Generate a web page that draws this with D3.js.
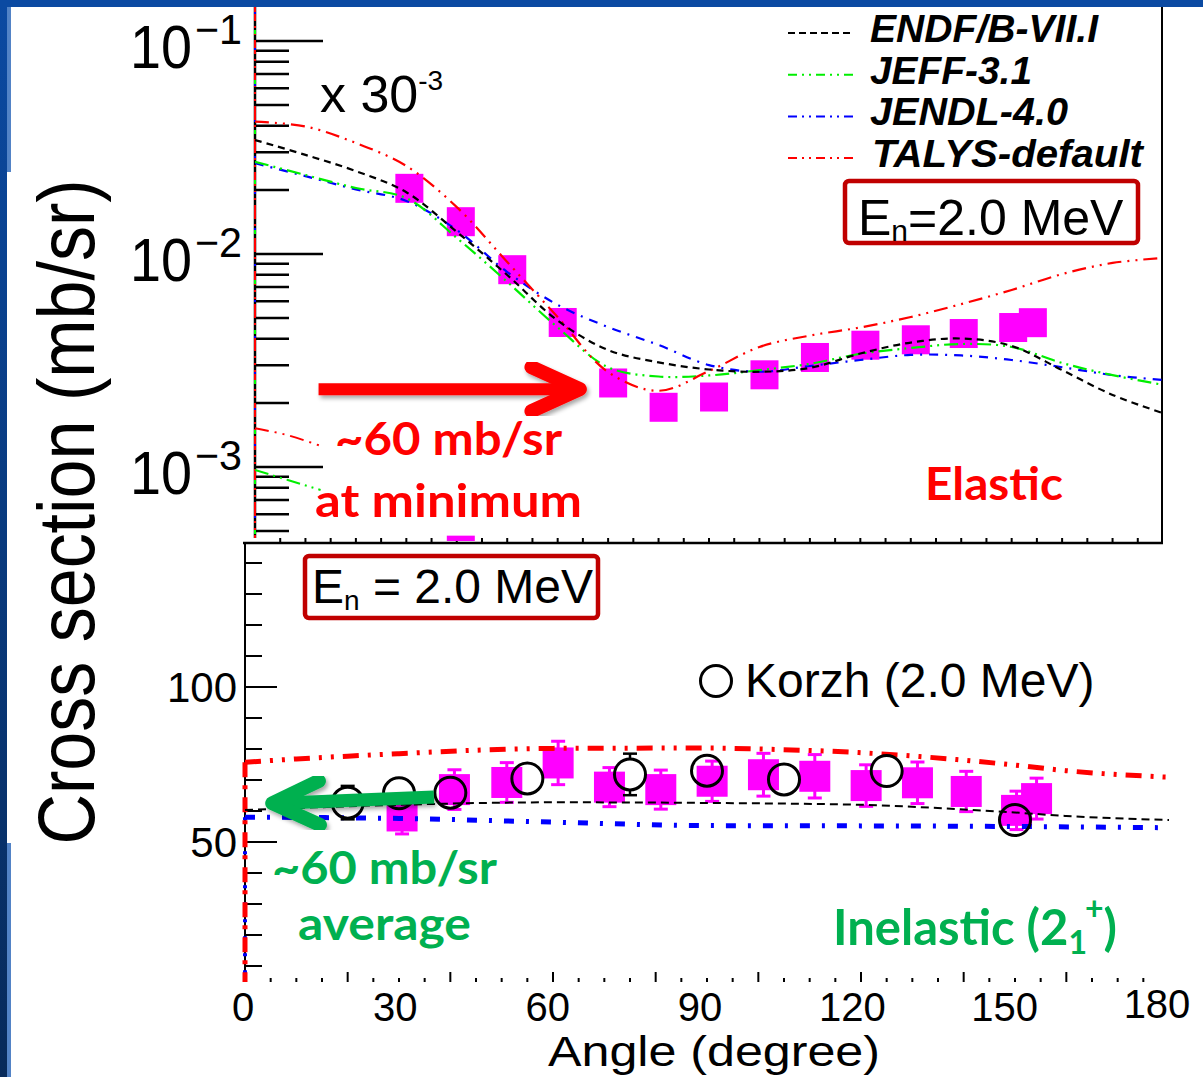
<!DOCTYPE html>
<html>
<head>
<meta charset="utf-8">
<script src="https://cdn.jsdelivr.net/npm/d3@7"></script>
<style>
  body { margin: 0; background: #fff; }
  svg { display: block; }
  .helv { font-family: "Liberation Sans", Arial, sans-serif; }
  .cal { font-family: Lato, "Open Sans", sans-serif; font-weight: 700; }
</style>
</head>
<body>
<div id="chart"></div>
<script>
///////////////////////////////////////////////////////////////////////////
//////////////////////////////// Data ////////////////////////////////////
///////////////////////////////////////////////////////////////////////////

// measured angles (deg), same for elastic and inelastic sets
var measAngles = [30.6, 40.8, 51, 61, 71, 81, 91, 101, 111, 121, 131, 140.5, 150.3, 154.2];
// elastic, mb/sr scaled x 30^-3
var elasticVals = [0.02034, 0.01418, 0.00844, 0.00477, 0.00248, 0.001907, 0.002131,
                   0.002709, 0.003267, 0.003731, 0.003956, 0.004233, 0.004517, 0.004759];
// inelastic (2_1+), mb/sr
var inelVals = [58.4, 66.9, 69.2, 75.5, 67.7, 66.9, 69.6, 71.7, 71.2, 68.2, 69.1, 66.3, 60.2, 64];
var inelErr  = [5.8, 6.4, 6.4, 7, 6.3, 6.3, 6.5, 6.9, 7, 6.7, 6.7, 6.5, 6.2, 6.6];

// Korzh (2.0 MeV)
var korzhAngles = [20, 30, 40, 55, 75, 90, 105, 125, 150];
var korzhVals   = [62.7, 65.7, 65.9, 70.5, 71.8, 73, 70.2, 72.9, 57.1];
var korzhErr    = [5.4, 4.9, 4, 3, 6.7, 3, 3, 3, 3];

// evaluations, elastic panel (log)
var gridAngles = [0, 10, 20, 30, 40, 50, 60, 70, 80, 90, 100, 110, 120, 130, 140, 150, 160, 170, 180];
var endfEl  = [0.0343, 0.0292, 0.0245, 0.0195, 0.0127, 0.00797, 0.00487, 0.00354, 0.0031, 0.00287,
               0.0028, 0.00292, 0.00341, 0.00384, 0.00401, 0.0037, 0.00285, 0.00218, 0.00179];
var jeffEl  = [0.0271, 0.0235, 0.0204, 0.0183, 0.0119, 0.0074, 0.00452, 0.00294, 0.00266, 0.00269,
               0.00285, 0.00305, 0.0034, 0.00362, 0.00378, 0.00366, 0.00308, 0.0027, 0.00243];
var jendlEl = [0.0267, 0.0232, 0.0201, 0.01775, 0.01297, 0.00823, 0.00577, 0.00454, 0.00374, 0.00301,
               0.0028, 0.00298, 0.00318, 0.00336, 0.00334, 0.00318, 0.00294, 0.0027, 0.00256];
var talysEl = [0.0418, 0.0397, 0.0332, 0.0259, 0.0166, 0.00917, 0.00506, 0.00279, 0.00228, 0.00282,
               0.00366, 0.00414, 0.00452, 0.00506, 0.00582, 0.00678, 0.00805, 0.00908, 0.00958];

// pieces of the next (hidden) energy set, left edge
var lowAngles = [0, 6.5, 13];
var lowTalys  = [0.00152, 0.00141, 0.001256];
var lowJeff   = [0.000968, 0.000869, 0.00078];
var lowPointAngle = [40.8];
var lowPointVal   = [0.000407];

// evaluations, inelastic panel (linear)
var talysInAng = [0, 10, 20, 30, 45, 60, 90, 100, 120, 140, 150, 160, 180];
var talysIn    = [75.7, 76.8, 77.7, 78.5, 79.6, 80.2, 80.3, 80, 78.8, 76.4, 74.8, 73, 70.9];
var endfInAng  = [0, 30, 60, 90, 120, 140, 150, 160, 180];
var endfIn     = [60.3, 62, 62.8, 62.6, 62, 60.5, 59.5, 58.4, 57.1];
var jendlInAng = [0, 30, 60, 90, 120, 150, 180];
var jendlIn    = [58, 57.6, 56.4, 55.3, 55.2, 55, 54.6];

// axes
var xLabels = [0, 30, 60, 90, 120, 150, 180];
var yInLabels = [50, 100];
var yElLabels = [1e-1, 1e-2, 1e-3];
var legendNames = ["ENDF/B-VII.I", "JEFF-3.1", "JENDL-4.0", "TALYS-default"];
var legendWidths = [228, 162, 198, 271];

///////////////////////////////////////////////////////////////////////////
////////////////////////////// Set up svg ////////////////////////////////
///////////////////////////////////////////////////////////////////////////

var W = 1203, H = 1077;
var svg = d3.select("#chart").append("svg")
	.attr("width", W).attr("height", H);

// slide frame
var defs = svg.append("defs");
var grad = defs.append("linearGradient").attr("id", "frameGrad")
	.attr("x1", 0).attr("y1", 0).attr("x2", 0).attr("y2", 1);
grad.append("stop").attr("offset", "0%").attr("stop-color", "#0b4aa2");
grad.append("stop").attr("offset", "100%").attr("stop-color", "#072a5a");
svg.append("rect").attr("x", 0).attr("y", 0).attr("width", 7).attr("height", H).attr("fill", "url(#frameGrad)");
svg.append("rect").attr("x", 0).attr("y", 0).attr("width", W).attr("height", 7).attr("fill", "#0b4aa2");
svg.append("rect").attr("x", 7).attr("y", 7).attr("width", 4).attr("height", 165).attr("fill", "#5283c6");
svg.append("rect").attr("x", 7).attr("y", 7).attr("width", 122).attr("height", 3).attr("fill", "#5283c6");
svg.append("rect").attr("x", 7).attr("y", 843).attr("width", 4).attr("height", H - 843).attr("fill", "#5283c6");

defs.append("clipPath").attr("id", "clipTop").append("rect")
	.attr("x", 255).attr("y", 7).attr("width", 908).attr("height", 534);
defs.append("filter").attr("id", "shadow")
	.append("feDropShadow").attr("dx", 2).attr("dy", 3).attr("stdDeviation", 2)
	.attr("flood-color", "#000").attr("flood-opacity", 0.35);

///////////////////////////////////////////////////////////////////////////
//////////////////////////// Scales //////////////////////////////////////
///////////////////////////////////////////////////////////////////////////

var xTop = d3.scaleLinear().domain([0, 180]).range([255, 1163]);
var yTop = d3.scaleLog().domain([1e-3, 1e-1]).range([467, 41]);
var xBot = d3.scaleLinear().domain([0, 180]).range([245, 1169]);
var xBotLab = d3.scaleLinear().domain([0, 180]).range([243, 1157]);
var yBot = d3.scaleLinear().domain([50, 100]).range([842, 687]);

///////////////////////////////////////////////////////////////////////////
///////////////////////// Bottom panel: inelastic ////////////////////////
///////////////////////////////////////////////////////////////////////////

var bot = svg.append("g");

// y axis
bot.append("line").attr("x1", 245).attr("x2", 245).attr("y1", 543).attr("y2", 982)
	.attr("stroke", "#000").attr("stroke-width", 2);
var yBotTicks = d3.range(10, 141, 10);
bot.selectAll(".ybt").data(yBotTicks).enter().append("line")
	.attr("x1", 245).attr("x2", function(d) { return d % 50 === 0 ? 277 : 262; })
	.attr("y1", function(d) { return yBot(d); }).attr("y2", function(d) { return yBot(d); })
	.attr("stroke", "#000").attr("stroke-width", 2);
bot.selectAll(".ybl").data(yInLabels).enter().append("text")
	.attr("class", "helv").attr("x", 237).attr("y", function(d) { return yBot(d) + 15; })
	.attr("text-anchor", "end").attr("font-size", 42).text(function(d) { return d; });

// x axis ticks
var xBotTicks = d3.range(5, 180, 5);
bot.selectAll(".xbt").data(xBotTicks).enter().append("line")
	.attr("x1", function(d) { return xBot(d); }).attr("x2", function(d) { return xBot(d); })
	.attr("y1", 982).attr("y2", function(d) { return d % 20 === 0 ? 972 : 978; })
	.attr("stroke", "#000").attr("stroke-width", 2);
bot.selectAll(".xbl").data(xLabels).enter().append("text")
	.attr("class", "helv").attr("x", function(d) { return xBotLab(d); })
	.attr("y", function(d) { return d === 180 ? 1018 : 1021; })
	.attr("text-anchor", "middle").attr("font-size", 40).text(function(d) { return d; });

// curves along left axis
bot.append("line").attr("x1", 245).attr("x2", 245).attr("y1", yBot(58)).attr("y2", 982)
	.attr("stroke", "#0000ff").attr("stroke-width", 4).attr("stroke-dasharray", "3,14");
bot.append("line").attr("x1", 245).attr("x2", 245).attr("y1", yBot(75.7)).attr("y2", 982)
	.attr("stroke", "#ff0000").attr("stroke-width", 5).attr("stroke-dasharray", "15,8,4,8");

// error bar drawn only outside the marker
var R_CIRC = 15.5, HALF_SQ = 15.5;
function errBars(sel, xs, ys, half, color, w) {
	sel.each(function(d) {
		var g = d3.select(this), x = xs(d.a), yc = ys(d.v);
		var yHi = ys(d.v + d.e), yLo = ys(d.v - d.e);
		[[yHi, yc - half], [yLo, yc + half]].forEach(function(p) {
			if (Math.abs(p[0] - yc) <= half) return;
			g.append("line").attr("x1", x).attr("x2", x).attr("y1", p[0]).attr("y2", p[1])
				.attr("stroke", color).attr("stroke-width", w);
			g.append("line").attr("x1", x - 7).attr("x2", x + 7).attr("y1", p[0]).attr("y2", p[0])
				.attr("stroke", color).attr("stroke-width", w);
		});
	});
}

// data squares + error bars
var inel = measAngles.map(function(a, i) { return {a: a, v: inelVals[i], e: inelErr[i]}; });
var sq = bot.selectAll(".isq").data(inel).enter().append("g");
errBars(sq, xBot, yBot, HALF_SQ - 1, "#ff00ff", 3);
sq.append("rect")
	.attr("x", function(d) { return xBot(d.a) - HALF_SQ; }).attr("y", function(d) { return yBot(d.v) - HALF_SQ; })
	.attr("width", 2 * HALF_SQ).attr("height", 2 * HALF_SQ).attr("fill", "#ff00ff");

// evaluation curves
var lineBot = d3.line().curve(d3.curveMonotoneX)
	.x(function(d) { return xBot(d[0]); }).y(function(d) { return yBot(d[1]); });
bot.append("path").datum(d3.zip(jendlInAng, jendlIn)).attr("d", lineBot)
	.attr("fill", "none").attr("stroke", "#0000ff").attr("stroke-width", 5).attr("stroke-dasharray", "10,12,3,12");
bot.append("path").datum(d3.zip(talysInAng, talysIn)).attr("d", lineBot)
	.attr("fill", "none").attr("stroke", "#ff0000").attr("stroke-width", 5).attr("stroke-dasharray", "16,9,3,9,3,9");
bot.append("path").datum(d3.zip(endfInAng, endfIn)).attr("d", lineBot)
	.attr("fill", "none").attr("stroke", "#000").attr("stroke-width", 2).attr("stroke-dasharray", "8,5");

// Korzh open circles
var korzh = korzhAngles.map(function(a, i) { return {a: a, v: korzhVals[i], e: korzhErr[i]}; });
var kz = bot.selectAll(".kz").data(korzh).enter().append("g");
errBars(kz, xBot, yBot, R_CIRC, "#000", 2.5);
kz.append("circle")
	.attr("cx", function(d) { return xBot(d.a); }).attr("cy", function(d) { return yBot(d.v); })
	.attr("r", R_CIRC).attr("fill", "none").attr("stroke", "#000").attr("stroke-width", 3);

// legend + energy box
bot.append("circle").attr("cx", 716).attr("cy", 681).attr("r", R_CIRC)
	.attr("fill", "none").attr("stroke", "#000").attr("stroke-width", 3);
bot.append("text").attr("class", "helv").attr("x", 745).attr("y", 697).attr("font-size", 48)
	.text("Korzh (2.0 MeV)");
bot.append("rect").attr("x", 305).attr("y", 556).attr("width", 293).attr("height", 62).attr("rx", 4)
	.attr("fill", "none").attr("stroke", "#c00000").attr("stroke-width", 4.5);
var eb = bot.append("text").attr("class", "helv").attr("x", 312).attr("y", 603).attr("font-size", 48);
eb.append("tspan").text("E");
eb.append("tspan").attr("font-size", 28).attr("dy", 7).text("n");
eb.append("tspan").attr("dy", -7).text(" = 2.0 MeV");

///////////////////////////////////////////////////////////////////////////
////////////////////////// Top panel: elastic ////////////////////////////
///////////////////////////////////////////////////////////////////////////

var topG = svg.append("g");
topG.append("rect").attr("x", 11).attr("y", 7).attr("width", 1152).attr("height", 534).attr("fill", "#fff");

// frame: bottom axis line, right border
topG.append("line").attr("x1", 243).attr("x2", 1163).attr("y1", 543).attr("y2", 543)
	.attr("stroke", "#000").attr("stroke-width", 2.5);
topG.append("line").attr("x1", 1162).attr("x2", 1162).attr("y1", 7).attr("y2", 543)
	.attr("stroke", "#000").attr("stroke-width", 2);
topG.selectAll(".xtt").data(d3.range(5, 180, 5)).enter().append("line")
	.attr("x1", function(d) { return xTop(d); }).attr("x2", function(d) { return xTop(d); })
	.attr("y1", 542).attr("y2", 538).attr("stroke", "#000").attr("stroke-width", 2);

// y axis with log ticks
topG.append("line").attr("x1", 255).attr("x2", 255).attr("y1", 7).attr("y2", 538)
	.attr("stroke", "#000").attr("stroke-width", 2.5);
var logTicks = d3.scaleLog().domain([5e-4, 0.1]).ticks();
topG.selectAll(".ytt").data(logTicks).enter().append("line")
	.attr("x1", 255)
	.attr("x2", function(d) { return Math.abs(Math.log10(d) - Math.round(Math.log10(d))) < 1e-9 ? 323 : 289; })
	.attr("y1", function(d) { return yTop(d); }).attr("y2", function(d) { return yTop(d); })
	.attr("stroke", "#000").attr("stroke-width", 2.5);
topG.append("line").attr("x1", 255).attr("x2", 255).attr("y1", 7).attr("y2", 538)
	.attr("stroke", "#ff0000").attr("stroke-width", 2).attr("stroke-dasharray", "14,5,2,5,2,5");
topG.append("line").attr("x1", 255).attr("x2", 255).attr("y1", 12).attr("y2", 538)
	.attr("stroke", "#0000ff").attr("stroke-width", 2).attr("stroke-dasharray", "2,34");
topG.append("line").attr("x1", 255).attr("x2", 255).attr("y1", 30).attr("y2", 538)
	.attr("stroke", "#00ff00").attr("stroke-width", 2).attr("stroke-dasharray", "4,46");

var yl = topG.selectAll(".ytl").data(yElLabels).enter().append("g");
yl.append("text").attr("class", "helv").attr("x", 130)
	.attr("y", function(d) { return yTop(d) + 27; })
	.attr("font-size", 62).attr("textLength", 62).attr("lengthAdjust", "spacingAndGlyphs").text("10");
yl.append("text").attr("class", "helv").attr("x", 195)
	.attr("y", function(d) { return yTop(d) + 3; })
	.attr("font-size", 42).attr("textLength", 47).attr("lengthAdjust", "spacingAndGlyphs")
	.text(function(d) { return "\u2212" + Math.round(-Math.log10(d)); });

var plot = topG.append("g").attr("clip-path", "url(#clipTop)");

// elastic data squares
plot.selectAll(".esq").data(d3.zip(measAngles, elasticVals)).enter().append("rect")
	.attr("x", function(d) { return xTop(d[0]) - 14; }).attr("y", function(d) { return yTop(d[1]) - 14.5; })
	.attr("width", 28).attr("height", 29).attr("fill", "#ff00ff");
plot.selectAll(".lsq").data(d3.zip(lowPointAngle, lowPointVal)).enter().append("rect")
	.attr("x", function(d) { return xTop(d[0]) - 14; }).attr("y", function(d) { return yTop(d[1]) - 14.5; })
	.attr("width", 28).attr("height", 29).attr("fill", "#ff00ff");

var lineTop = d3.line().curve(d3.curveCatmullRom)
	.x(function(d) { return xTop(d[0]); }).y(function(d) { return yTop(d[1]); });

var evalStyles = [
	{vals: endfEl,  color: "#000000", dash: "7,5"},
	{vals: jeffEl,  color: "#00ee00", dash: "14,5,2,5,2,5"},
	{vals: jendlEl, color: "#0000ff", dash: "9,7,2,7"},
	{vals: talysEl, color: "#ff0000", dash: "14,6,2,6,2,6"}
];
[2, 1, 3, 0].forEach(function(k) {
	var s = evalStyles[k];
	plot.append("path").datum(d3.zip(gridAngles, s.vals)).attr("d", lineTop)
		.attr("fill", "none").attr("stroke", s.color).attr("stroke-width", 2.2).attr("stroke-dasharray", s.dash);
});
plot.append("path").datum(d3.zip(lowAngles, lowTalys)).attr("d", lineTop)
	.attr("fill", "none").attr("stroke", "#ff0000").attr("stroke-width", 2).attr("stroke-dasharray", "14,6,2,6,2,6");
plot.append("path").datum(d3.zip(lowAngles, lowJeff)).attr("d", lineTop)
	.attr("fill", "none").attr("stroke", "#00ee00").attr("stroke-width", 2).attr("stroke-dasharray", "14,5,2,5,2,5");

// legend
var leg = topG.selectAll(".leg").data(legendNames).enter().append("g")
	.attr("transform", function(d, i) { return "translate(0," + (i * 41.7) + ")"; });
leg.append("line").attr("x1", 788).attr("x2", 853).attr("y1", 33).attr("y2", 33)
	.attr("stroke", function(d, i) { return evalStyles[i].color; }).attr("stroke-width", 2)
	.attr("stroke-dasharray", function(d, i) { return i === 0 ? "7,4" : "9,5,2,5,2,5"; });
leg.append("text").attr("class", "helv").attr("x", function(d, i) { return i === 3 ? 872 : 870; }).attr("y", 42)
	.attr("font-size", 38).attr("font-weight", "bold").attr("font-style", "italic")
	.attr("textLength", function(d, i) { return legendWidths[i]; }).attr("lengthAdjust", "spacingAndGlyphs")
	.text(function(d) { return d; });

// energy box
topG.append("rect").attr("x", 845).attr("y", 181).attr("width", 293).attr("height", 62).attr("rx", 4)
	.attr("fill", "none").attr("stroke", "#c00000").attr("stroke-width", 4.5);
var et = topG.append("text").attr("class", "helv").attr("x", 858).attr("y", 235).attr("font-size", 50);
et.append("tspan").text("E");
et.append("tspan").attr("font-size", 30).attr("dy", 6).text("n");
et.append("tspan").attr("dy", -6).text("=2.0 MeV");

// scale factor
var sf = topG.append("text").attr("class", "helv").attr("x", 320).attr("y", 112).attr("font-size", 52);
sf.append("tspan").text("x 30");
sf.append("tspan").attr("font-size", 28).attr("dy", -22).text("-3");

///////////////////////////////////////////////////////////////////////////
//////////////////////////// Annotations /////////////////////////////////
///////////////////////////////////////////////////////////////////////////

svg.append("text").attr("class", "helv")
	.attr("transform", "translate(94,512) rotate(-90)")
	.attr("text-anchor", "middle").attr("font-size", 80)
	.attr("textLength", 665).attr("lengthAdjust", "spacingAndGlyphs").text("Cross section (mb/sr)");
svg.append("text").attr("class", "helv").attr("x", 548).attr("y", 1066)
	.attr("font-size", 42).attr("textLength", 332).attr("lengthAdjust", "spacingAndGlyphs").text("Angle (degree)");

// red arrow to the elastic minimum
var redY = yTop(0.00232);
var ra = svg.append("g").attr("filter", "url(#shadow)");
ra.append("line").attr("x1", xTop(12.6)).attr("x2", xTop(64)).attr("y1", redY).attr("y2", redY)
	.attr("stroke", "#ff0000").attr("stroke-width", 12);
ra.append("path")
	.attr("d", "M" + xTop(54.8) + "," + (redY - 22) + "L" + xTop(64.4) + "," + redY + "L" + xTop(54.8) + "," + (redY + 22))
	.attr("fill", "none").attr("stroke", "#ff0000").attr("stroke-width", 14)
	.attr("stroke-linecap", "round").attr("stroke-linejoin", "round");

// green arrow to the average
var ga = svg.append("g").attr("filter", "url(#shadow)");
var gTail = [xBot(36.8), yBot(64.5)], gTip = [xBot(5.3), yBot(62.5)];
ga.append("line").attr("x1", gTail[0]).attr("y1", gTail[1]).attr("x2", gTip[0] + 6).attr("y2", gTip[1])
	.attr("stroke", "#00b050").attr("stroke-width", 13);
ga.append("path")
	.attr("d", "M" + xBot(14.4) + "," + yBot(69.7) + "L" + gTip[0] + "," + gTip[1] + "L" + xBot(14.6) + "," + yBot(55.5))
	.attr("fill", "none").attr("stroke", "#00b050").attr("stroke-width", 14)
	.attr("stroke-linecap", "round").attr("stroke-linejoin", "round");

function note(x, y, txt, color, len) {
	svg.append("text").attr("class", "cal").attr("x", x).attr("y", y)
		.attr("font-size", 46).attr("fill", color)
		.attr("textLength", len).attr("lengthAdjust", "spacingAndGlyphs").text(txt);
}
note(335, 455, "~60 mb/sr", "#ff0000", 227);
note(315, 517, "at minimum", "#ff0000", 267);
note(925, 500, "Elastic", "#ff0000", 138);
note(272, 884, "~60 mb/sr", "#00b050", 225);
note(298, 940, "average", "#00b050", 173);

var ine = svg.append("text").attr("class", "cal").attr("x", 833).attr("y", 945)
	.attr("font-size", 49).attr("fill", "#00b050");
ine.append("tspan").text("Inelastic (2");
ine.append("tspan").attr("font-size", 32).attr("dy", 9).text("1");
ine.append("tspan").attr("font-size", 32).attr("dy", -34).attr("dx", -2).text("+");
ine.append("tspan").attr("dy", 25).text(")");
</script>
</body>
</html>
